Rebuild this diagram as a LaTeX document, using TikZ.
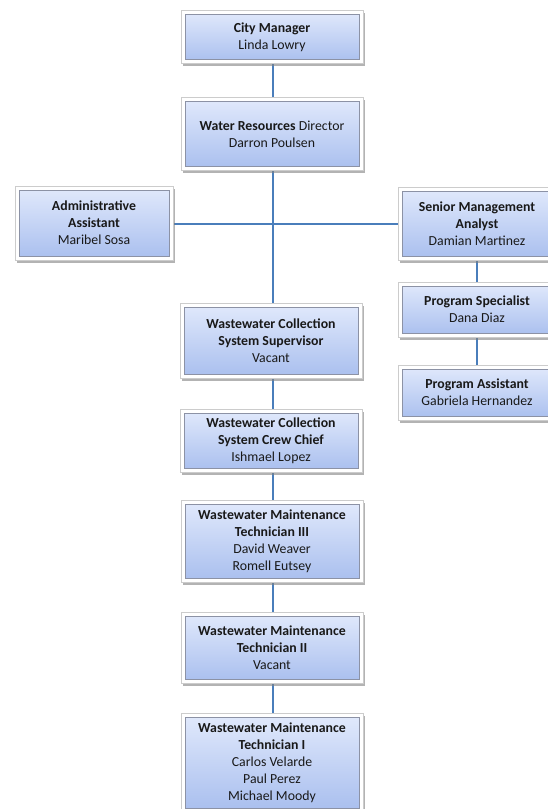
\documentclass[tikz,border=0pt]{standalone}
\usepackage{fontspec}
\setmainfont{Carlito}
\usetikzlibrary{shadows}
\definecolor{cardtop}{RGB}{226,234,252}
\definecolor{cardbot}{RGB}{168,190,238}
\definecolor{cardedge}{RGB}{140,146,165}
\definecolor{linkblue}{RGB}{74,126,187}
\tikzset{
  card/.style={
    draw=black!20, line width=0.6pt, fill=white,
    minimum width=182pt, align=center, inner sep=2pt,
    font=\fontsize{13.8}{16.9}\selectfont, text=black!90,
    drop shadow={shadow xshift=1.5pt, shadow yshift=-2.5pt, fill=black!50, opacity=0.6},
    path picture={
      \shade[top color=cardtop, bottom color=cardbot, draw=cardedge, line width=0.5pt]
        ([shift={(4pt,-4pt)}]path picture bounding box.north west) rectangle
        ([shift={(-4pt,4pt)}]path picture bounding box.south east);
    }},
  narrow/.style={minimum width=158pt},
  link/.style={draw=linkblue, line width=1.6pt}
}
\begin{document}
\begin{tikzpicture}[x=1pt,y=-1pt]
\useasboundingbox (0,0) rectangle (547,809);

% connectors (drawn first so the boxes sit on top)
\coordinate (trunkA) at (273,170);
\coordinate (trunkB) at (273,303);
\coordinate (barL) at (173,224);
\coordinate (barR) at (398,224);
\draw[link] (trunkA) -- (trunkB);
\draw[link] (barL) -- (barR);
\coordinate (sideA) at (477,260);
\coordinate (sideB) at (477,365);
\draw[link] (sideA) -- (sideB);
\coordinate (colA) at (273,378);
\coordinate (colB) at (273,713);
\draw[link] (colA) -- (colB);
\coordinate (topA) at (273,63);
\coordinate (topB) at (273,97);
\draw[link] (topA) -- (topB);

% boxes
\node[card, minimum height=53pt] (cm) at (272,37)
  {\textbf{City Manager}\\Linda Lowry};
\node[card, minimum height=73pt] (wrd) at (272,134)
  {\textbf{Water Resources} Director\\Darron Poulsen};
\node[card, narrow, minimum height=74pt] (aa) at (94,223)
  {\textbf{Administrative}\\\textbf{Assistant}\\Maribel Sosa};
\node[card, narrow, minimum height=73pt] (sma) at (477,223.5)
  {\textbf{Senior Management}\\\textbf{Analyst}\\Damian Martinez};
\node[card, narrow, minimum height=55pt] (ps) at (477,309.5)
  {\textbf{Program Specialist}\\Dana Diaz};
\node[card, narrow, minimum height=55pt] (pa) at (477,392.5)
  {\textbf{Program Assistant}\\Gabriela Hernandez};
\node[card, minimum height=75pt] (sup) at (271,340.5)
  {\textbf{Wastewater Collection}\\\textbf{System Supervisor}\\Vacant};
\node[card, minimum height=63pt] (crew) at (271,440.5)
  {\textbf{Wastewater Collection}\\\textbf{System Crew Chief}\\Ishmael Lopez};
\node[card, minimum height=82pt] (t3) at (272,541)
  {\textbf{Wastewater Maintenance}\\\textbf{Technician III}\\David Weaver\\Romell Eutsey};
\node[card, minimum height=71pt] (t2) at (272,647.5)
  {\textbf{Wastewater Maintenance}\\\textbf{Technician II}\\Vacant};
\node[card, minimum height=99pt] (t1) at (272,762.5)
  {\textbf{Wastewater Maintenance}\\\textbf{Technician I}\\Carlos Velarde\\Paul Perez\\Michael Moody};
\end{tikzpicture}
\end{document}
